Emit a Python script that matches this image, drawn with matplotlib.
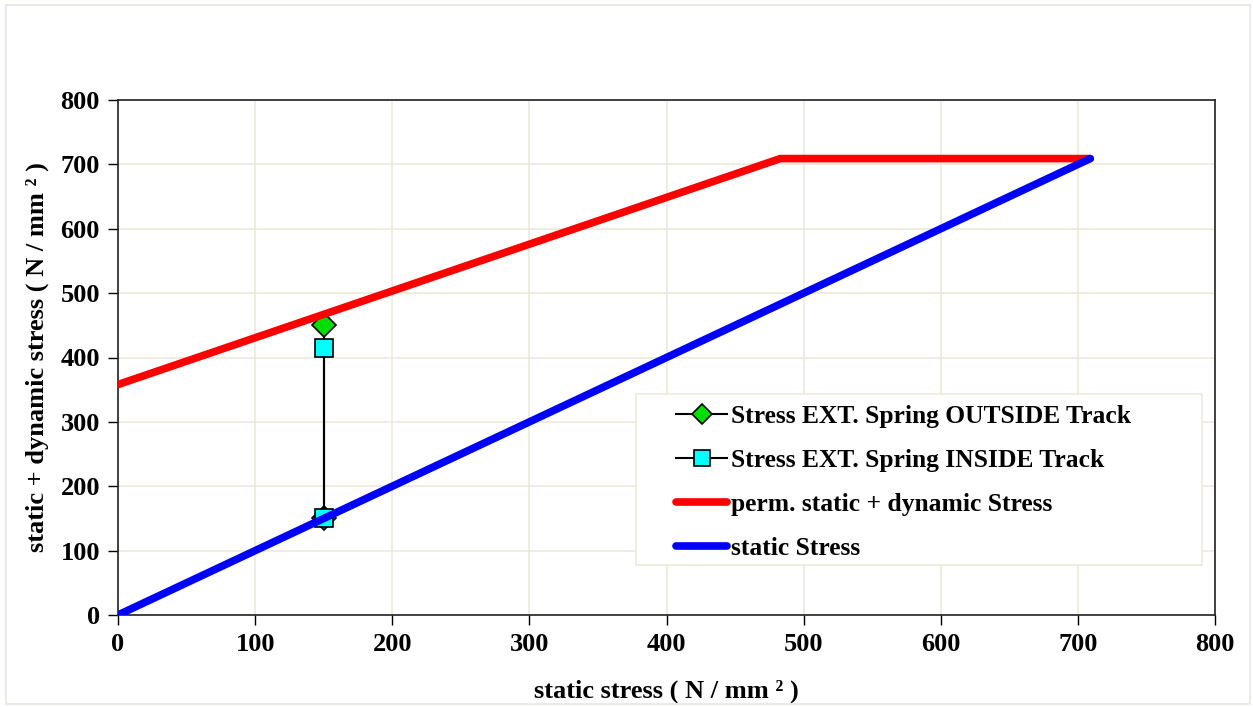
import matplotlib.pyplot as plt
from matplotlib.patches import Rectangle

# stress points of the external spring (static, static + dynamic)
outside_x = [150, 150]
outside_y = [150, 450]
inside_x = [150, 150]
inside_y = [150, 415]

# limit curves
perm_x = [0, 483, 709]
perm_y = [358, 709, 709]
static_x = [0, 709]
static_y = [0, 709]

ticks = list(range(0, 801, 100))

plt.rcParams['font.family'] = ['Liberation Serif', 'DejaVu Serif']
plt.rcParams['font.weight'] = 'bold'

W, H = 1253, 707
fig = plt.figure(figsize=(W / 100, H / 100), dpi=100)
ax = fig.add_axes([118 / W, 1 - 615 / H, (1215 - 118) / W, (615 - 100) / H])

# light border round the whole chart
fig.patches.append(Rectangle((6 / W, 3 / H), 1244 / W, 699 / H,
                             transform=fig.transFigure, fill=False,
                             edgecolor='#e8e6e0', linewidth=1.2))
# legend box (drawn apart so the padding can match)
ax.add_patch(Rectangle((636 / W, 1 - 565 / H), 566 / W, 171 / H,
                       transform=fig.transFigure, facecolor='white',
                       edgecolor='#ece9dc', linewidth=1.2, zorder=5,
                       clip_on=False))

ax.plot(outside_x, outside_y, color='black', linewidth=1.5, marker='D',
        markersize=12, markerfacecolor='#00e000', markeredgecolor='black',
        markeredgewidth=1.2, label='Stress EXT. Spring OUTSIDE Track', zorder=3)
ax.plot(inside_x, inside_y, color='black', linewidth=1.5, marker='s',
        markersize=13, markerfacecolor='#00ffff', markeredgecolor='black',
        markeredgewidth=1.2, label='Stress EXT. Spring INSIDE Track', zorder=3)
ax.plot(perm_x, perm_y, color='#ff0000', linewidth=5.5, solid_capstyle='round',
        label='perm. static + dynamic Stress', zorder=4)
ax.plot(static_x, static_y, color='#0000ff', linewidth=5.5, solid_capstyle='round',
        label='static Stress', zorder=4)

ax.set_xlim(0, 800)
ax.set_ylim(0, 800)
ax.set_xticks(ticks)
ax.set_yticks(ticks)
ax.tick_params(direction='out', length=7, width=1, labelsize=19, pad=6)
ax.grid(True, color='#ece9dc', linewidth=1.2)
ax.set_axisbelow(True)
for s in ax.spines.values():
    s.set_color('#222222')
    s.set_linewidth(1.2)

ax.set_xlabel('static stress ( N / mm ² )', fontsize=19, fontweight='bold', labelpad=17)
ax.set_ylabel('static + dynamic stress ( N / mm ² )', fontsize=19, fontweight='bold', labelpad=8)

leg = ax.legend(loc='upper left', bbox_to_anchor=(676 / W, 1 - 405 / H),
                bbox_transform=fig.transFigure, borderaxespad=0, borderpad=0,
                fontsize=18.4, handlelength=2.0, handletextpad=0.15,
                labelspacing=0.82, markerscale=0.85, frameon=False)
leg.set_zorder(6)

fig.savefig('out.png', dpi=100)
